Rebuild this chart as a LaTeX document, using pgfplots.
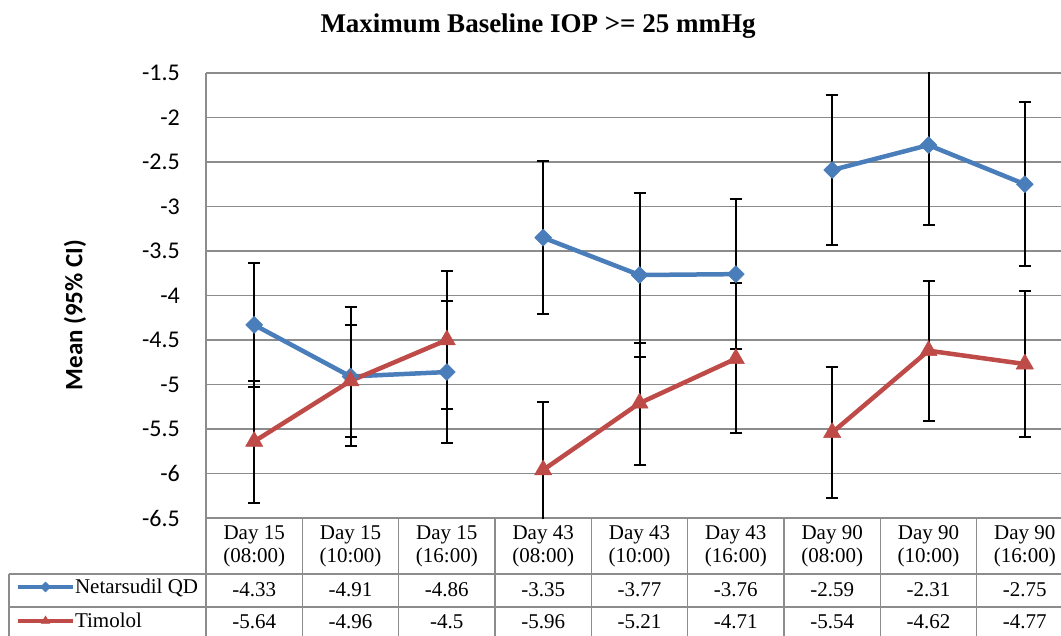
\documentclass[border=0pt]{standalone}
\usepackage{fontspec}
\setmainfont{Liberation Serif}
\newfontfamily\calibri{Carlito}
\usepackage{pgfplots}
\usepackage{pgfplotstable}
\pgfplotsset{compat=1.18}
\definecolor{nblue}{HTML}{4A7EBB}
\definecolor{tred}{HTML}{BE4B48}
\definecolor{gridgray}{HTML}{8C8C8C}

\pgfplotstableread{
x y ep em
0 -4.33 0.70 0.70
1 -4.91 0.78 0.78
2 -4.86 0.80 0.80
2.5 nan 0 0
3 -3.35 0.86 0.86
4 -3.77 0.92 0.92
5 -3.76 0.84 0.84
5.5 nan 0 0
6 -2.59 0.84 0.84
7 -2.31 0.90 0.90
8 -2.75 0.92 0.92
}\netar

\pgfplotstableread{
x y ep em
0 -5.64 0.68 0.69
1 -4.96 0.63 0.63
2 -4.50 0.78 0.78
2.5 nan 0 0
3 -5.96 0.76 0.76
4 -5.21 0.68 0.69
5 -4.71 0.85 0.84
5.5 nan 0 0
6 -5.54 0.74 0.74
7 -4.62 0.78 0.79
8 -4.77 0.82 0.82
}\timolol

\newcommand\tabfont{\fontsize{21}{23}\selectfont}

\begin{document}
\begin{tikzpicture}[x=1pt,y=1pt]
\path[use as bounding box] (0,0) rectangle (1061,635);
\begin{axis}[
  at={(206pt,117pt)}, anchor=south west,
  scale only axis, width=867pt, height=445pt,
  xmin=-0.5, xmax=8.5, ymin=-6.5, ymax=-1.5,
  unbounded coords=jump,
  ytick={-6.5,-6,-5.5,-5,-4.5,-4,-3.5,-3,-2.5,-2,-1.5},
  yticklabels={-6.5,-6,-5.5,-5,-4.5,-4,-3.5,-3,-2.5,-2,-1.5},
  yticklabel style={font=\calibri\fontsize{24}{24}\selectfont, inner sep=0pt, xshift=-26pt},
  ytick style={draw=none},
  xtick=\empty,
  ymajorgrids, grid style={gridgray, line width=1.5pt},
  axis x line=none,
  axis y line*=left,
  axis line style={gridgray, line width=1.5pt, -},
  ylabel={Mean (95\% CI)},
  ylabel style={font=\calibri\bfseries\fontsize{25}{25}\selectfont, at={(axis description cs:-0.1511,0.456)}, anchor=center, rotate=0},
  legend style={at={(axis description cs:-0.2191,-0.137)}, anchor=north west, draw=none, fill=none, inner sep=0pt, outer sep=0pt, font=\tabfont, row sep=14pt,
    nodes={text height=15pt, text depth=5pt, inner sep=0pt}},
  legend cell align=left,
  legend columns=1,
  /tikz/every even column/.append style={column sep=4pt},
  legend image code/.code={%
    \draw[#1, line width=4pt, mark=none] (0pt,2pt) -- (55pt,2pt);
    \draw[#1, mark size=5pt] plot coordinates {(27.5pt,2pt)};},
]
\addplot[nblue, line width=4.5pt, line join=round, mark=diamond*, mark size=8.5pt,
  mark options={solid, xscale=1.33, fill=nblue, draw=nblue, line width=0.5pt},
  error bars/.cd, y dir=both, y explicit,
  error bar style={black, line width=2pt},
  error mark options={black, line width=2pt, mark size=6pt, rotate=90}]
  table[x=x, y=y, y error plus=ep, y error minus=em]{\netar};
\addlegendentry{Netarsudil QD}
\addplot[tred, line width=4.5pt, line join=round, mark=triangle*, mark size=10pt,
  mark options={solid, fill=tred, draw=tred, line width=0.5pt},
  error bars/.cd, y dir=both, y explicit,
  error bar style={black, line width=2pt},
  error mark options={black, line width=2pt, mark size=6pt, rotate=90}]
  table[x=x, y=y, y error plus=ep, y error minus=em]{\timolol};
\addlegendentry{Timolol}
\end{axis}

% title
\node[font=\bfseries\fontsize{27}{27}\selectfont, anchor=base] at (538,602) {Maximum Baseline IOP >= 25 mmHg};

% data table
\begin{scope}[gridgray, line width=1.5pt]
  \draw (9,61) -- (1073,61);
  \draw (9,28) -- (1073,28);
  \draw (9,61) -- (9,-5);
  \foreach \k in {0,...,9} \draw ({206+96.33*\k},117) -- ({206+96.33*\k},-5);
\end{scope}
\foreach \lab [count=\i from 0] in {{Day 15\\(08:00)},{Day 15\\(10:00)},{Day 15\\(16:00)},{Day 43\\(08:00)},{Day 43\\(10:00)},{Day 43\\(16:00)},{Day 90\\(08:00)},{Day 90\\(10:00)},{Day 90\\(16:00)}}
  \node[font=\tabfont, align=center, inner sep=0pt] at ({254.2+96.33*\i},89) {\lab};
\foreach \v [count=\i from 0] in {-4.33,-4.91,-4.86,-3.35,-3.77,-3.76,-2.59,-2.31,-2.75}
  \node[font=\tabfont, anchor=base, inner sep=0pt] at ({254.2+96.33*\i},38) {\v};
\foreach \v [count=\i from 0] in {-5.64,-4.96,-4.5,-5.96,-5.21,-4.71,-5.54,-4.62,-4.77}
  \node[font=\tabfont, anchor=base, inner sep=0pt] at ({254.2+96.33*\i},6) {\v};
\end{tikzpicture}
\end{document}
